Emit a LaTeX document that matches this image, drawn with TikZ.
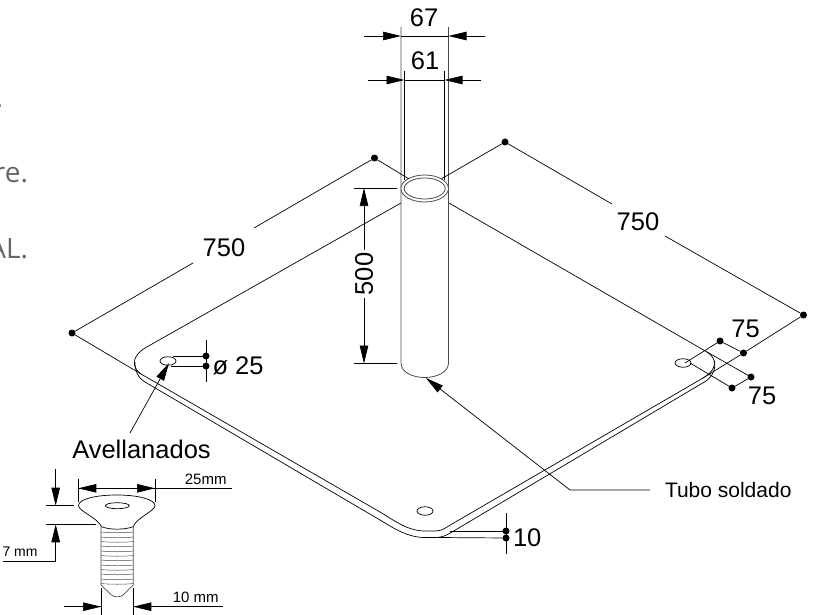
\documentclass[tikz,border=0pt]{standalone}
\usepackage{fontspec}
\setmainfont{Liberation Sans}
\newfontfamily\edgefont{Open Sans}
\usetikzlibrary{arrows.meta,shapes.geometric}
\definecolor{tubeg}{gray}{0.3}
\tikzset{
  every node/.style={inner sep=0pt,outer sep=0pt},
  ln/.style={line width=0.7pt,black},
  tubeln/.style={line width=0.8pt,tubeg},
  threadln/.style={line width=0.5pt,black!70},
  arr/.style={line width=0.7pt,-{Triangle[length=18pt,width=8.5pt]}},
  dotn/.style={circle,fill=black,minimum size=7pt},
  hole/.style={ellipse,draw,line width=0.7pt,minimum width=16pt,minimum height=8.5pt},
  big/.style={font=\fontsize{25.5}{25.5}\selectfont},
  lab/.style={font=\fontsize{21}{21}\selectfont},
  avl/.style={font=\fontsize{25.5}{25.5}\selectfont},
  small/.style={font=\fontsize{15}{15}\selectfont},
  smaller/.style={font=\fontsize{14}{14}\selectfont},
  edgetext/.style={font=\edgefont\fontsize{28}{28}\selectfont,text=black!60,anchor=base east},
}
\begin{document}
\begin{tikzpicture}[x=1pt,y=-1pt]
\useasboundingbox (0,0) rectangle (835,615);
\clip (0,0) rectangle (835,615);
% clipped text at the left edge
\node[edgetext] (t1) at (3,108) {.};
\node[edgetext] (t2) at (28,182) {re.};
\node[edgetext] (t3) at (28,258) {AL.};

% plate
\draw[ln] (401,203) -- (145,348) .. controls (132,356) and (131,367) .. (141,374)
  -- (380,512) .. controls (395,521) and (408,531) .. (425,531)
  -- (436,531) .. controls (442,531) and (447,527) .. (452,524)
  -- (703,378) .. controls (717,370) and (718,359) .. (707,352) -- (449,203);
\draw[ln] (135,362) .. controls (135,370) and (137,377) .. (145,382)
  -- (380,520) .. controls (395,529) and (408,537.5) .. (425,537.5)
  -- (436,537.5) .. controls (442,537.5) and (447,535) .. (452,532)
  -- (706,381) .. controls (713,376) and (716,368) .. (714.5,361);

% holes
\node[hole] (hl) at (168,361) {};
\node[hole] (hr) at (683,363) {};
\node[hole] (hb) at (425,511) {};

% tube
\coordinate (ol) at (401,27); \coordinate (olb) at (401,363);
\coordinate (or) at (448.5,27); \coordinate (orb) at (448.5,363);
\coordinate (il) at (404.5,71); \coordinate (ilb) at (404.5,180);
\coordinate (ir) at (444.5,71); \coordinate (irb) at (444.5,180);
\draw[tubeln] (ol) -- (olb) .. controls (401,372) and (412,377.5) .. (424.7,377.5)
  .. controls (437,377.5) and (448.5,372) .. (orb) -- (or);
\draw[ln] (il) -- (ilb);
\draw[ln] (ir) -- (irb);
\node[ellipse,draw=tubeg,fill=white,line width=0.8pt,minimum width=47.5pt,minimum height=27pt] (ringo) at (424.7,188.5) {};
\node[ellipse,draw=tubeg,line width=0.8pt,minimum width=41pt,minimum height=21pt] (ringi) at (424.7,188.5) {};

% dimension 67
\coordinate (a67l) at (364,36); \coordinate (a67lt) at (401,36);
\coordinate (a67r) at (485,36); \coordinate (a67rt) at (448.5,36);
\draw[arr] (a67l) -- (a67lt);
\draw[arr] (a67r) -- (a67rt);
\draw[ln] (a67lt) -- (a67rt);
\node[big] (n67) at (424,18) {67};
% dimension 61
\coordinate (a61l) at (368,80); \coordinate (a61lt) at (404.5,80);
\coordinate (a61r) at (481,80); \coordinate (a61rt) at (444.5,80);
\draw[arr] (a61l) -- (a61lt);
\draw[arr] (a61r) -- (a61rt);
\draw[ln] (a61lt) -- (a61rt);
\node[big] (n61) at (425,61) {61};

% dimension 500
\coordinate (e1a) at (354,188); \coordinate (e1b) at (397,188);
\coordinate (e2a) at (354,363.5); \coordinate (e2b) at (397,363.5);
\draw[ln] (e1a) -- (e1b);
\draw[ln] (e2a) -- (e2b);
\node[big,rotate=90] (n500) at (364,274) {500};
\coordinate (d5t) at (364,188); \coordinate (d5b) at (364,363.5);
\draw[arr] (n500.east) ++(0,-3) -- (d5t);
\draw[arr] (n500.west) ++(0,3) -- (d5b);

% dimension 750 left
\node[dotn] (dl) at (72,333) {};
\node[dotn] (dt) at (374.5,158) {};
\node[big] (n750l) at (224,248) {750};
\coordinate (g1) at (193,263); \coordinate (g2) at (254,228);
\draw[ln] (dl) -- (g1);
\draw[ln] (g2) -- (dt);
\draw[ln] (dl) -- (141,374);
\draw[ln] (dt) -- (ringo);

% dimension 750 right
\node[dotn] (dm) at (505,142) {};
\node[dotn] (dr) at (803.5,315) {};
\node[big] (n750r) at (638,222) {750};
\coordinate (g3) at (612,204); \coordinate (g4) at (665,236);
\draw[ln] (dm) -- (g3);
\draw[ln] (g4) -- (dr);
\draw[ln] (dm) -- (ringo);

% dimensions 75
\node[dotn] (q1) at (720,341) {};
\node[dotn] (q2) at (743.5,353) {};
\node[dotn] (q3) at (751,377) {};
\node[dotn] (q4) at (732,388) {};
\draw[ln] (dr) -- (q2) -- (703,378);
\draw[ln] (707,352) -- (q3);
\draw[ln] (q1) -- (q2);
\draw[ln] (q3) -- (q4);
\draw[ln] (q1) -- (685,363);
\draw[ln] (q4) -- (690,363);
\node[big] (n75a) at (745.5,329) {75};
\node[big] (n75b) at (762,396) {75};

% hole diameter
\node[dotn] (p1) at (206,356) {};
\node[dotn] (p2) at (206,366) {};
\coordinate (p1e) at (173,356); \coordinate (p2e) at (171,366);
\coordinate (pt) at (206,340); \coordinate (pb) at (206,382);
\draw[ln] (p1e) -- (p1);
\draw[ln] (p2e) -- (p2);
\draw[ln] (pt) -- (pb);
\node[big,anchor=west] (n25) at (212.5,366) {ø 25};

% thickness 10
\node[dotn] (r1) at (506,531) {};
\node[dotn] (r2) at (506,538) {};
\coordinate (rt) at (506,513); \coordinate (rb) at (506,554);
\draw[ln] (450,531) -- (r1);
\draw[ln] (438,537.5) -- (r2);
\draw[ln] (rt) -- (rb);
\node[big,anchor=west] (n10) at (513,538) {10};

% leaders
\node[avl] (nav) at (141.5,449) {Avellanados};
\coordinate (avt) at (169,363);
\draw[arr] (130,433) -- (avt);
\node[lab,anchor=west] (ntu) at (665,490) {Tubo soldado};
\coordinate (tut) at (426,378);
\coordinate (tuk) at (570,490);
\draw[arr] (ntu.west) ++(-15,0) -- (tuk) -- (tut);

% screw head
\draw[ln] (78.5,505.7) .. controls (78.5,499) and (96,495) .. (116.7,495)
  .. controls (137,495) and (155,499) .. (155,505.7)
  .. controls (155,511) and (136,518) .. (133.3,526.7)
  .. controls (124,530) and (110,530) .. (101.5,526.7)
  .. controls (98,518) and (78.5,511) .. (78.5,505.7) -- cycle;
\node[ellipse,draw,line width=0.7pt,minimum width=24pt,minimum height=6pt] (sh) at (117.3,505.7) {};
% shank
\draw[tubeln,line width=0.7pt] (101,527) -- (101,585) -- (111.5,595) .. controls (114,597.5) and (120,597.5) .. (123,595) -- (133.3,585) -- (133.3,527);
\foreach \ty in {532,537,541.5,546,551,555.5,560,565,569.5,574,579,583.5}{
  \draw[threadln] (101,\ty) .. controls (110,\ty+1) and (125,\ty+1) .. (133.3,\ty);
}
% 25mm
\coordinate (s1) at (78.3,479); \coordinate (s1b) at (78.3,502);
\coordinate (s2) at (155,479); \coordinate (s2b) at (155,502);
\draw[ln] (s1) -- (s1b);
\draw[ln] (s2) -- (s2b);
\coordinate (s1t) at (78.3,488.3); \coordinate (s2t) at (155,488.3);
\coordinate (s3) at (97,488.3); \coordinate (s4) at (136.5,488.3); \coordinate (s5) at (231.7,488.3);
\draw[arr] (s3) -- (s1t);
\draw[arr] (s4) -- (s2t);
\draw[ln] (s1t) -- (s5);
\node[small] (n25mm) at (205.7,479) {25mm};
% 10 mm
\coordinate (v1) at (101,588); \coordinate (v1b) at (101,615);
\coordinate (v2) at (133.3,588); \coordinate (v2b) at (133.3,615);
\draw[ln] (v1) -- (v1b);
\draw[ln] (v2) -- (v2b);
\coordinate (v3) at (64,606.7); \coordinate (v4) at (101,606.7);
\coordinate (v5) at (223,606.7); \coordinate (v6) at (133.3,606.7);
\draw[arr] (84,606.7) -- (v4);
\draw[arr] (152,606.7) -- (v6);
\draw[ln] (v3) -- (v4);
\draw[ln] (v6) -- (v5);
\node[small] (n10mm) at (195.7,597) {10 mm};
% 7 mm
\coordinate (w1) at (46,505.7); \coordinate (w1b) at (74,505.7);
\coordinate (w2) at (46,524.3); \coordinate (w2b) at (96,524.3);
\draw[ln] (w1) -- (w1b);
\draw[ln] (w2) -- (w2b);
\coordinate (w3) at (55.7,469); \coordinate (w3t) at (55.7,505.7);
\coordinate (w4) at (55.7,561); \coordinate (w4t) at (55.7,524.3);
\coordinate (w5) at (3,561);
\draw[arr] (w3) -- (w3t);
\draw[arr] (w4) -- (w4t);
\draw[ln] (w4) -- (w5);
\node[smaller] (n7mm) at (20,552) {7 mm};
\end{tikzpicture}
\end{document}
